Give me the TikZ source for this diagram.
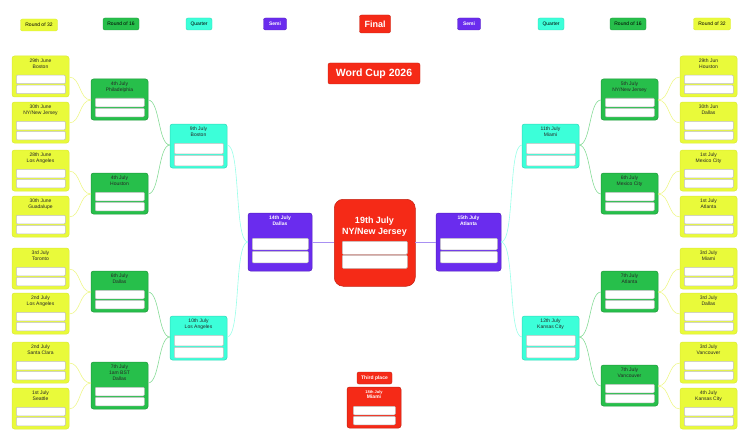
\documentclass[tikz,border=0pt]{standalone}
\usepackage{fontspec}
\setmainfont{Liberation Sans}
\usetikzlibrary{calc}
\definecolor{cy}{HTML}{E9FA3A}
\definecolor{cg}{HTML}{27BF4B}
\definecolor{cc}{HTML}{3CFFD9}
\definecolor{cp}{HTML}{6A2CEE}
\definecolor{cr}{HTML}{F52A17}
\definecolor{ly}{HTML}{EEF78A}
\definecolor{lg}{HTML}{86DB97}
\definecolor{lc}{HTML}{99FFE9}
\definecolor{lp}{HTML}{A890F2}
\tikzset{
 ybox/.style={fill=cy,draw=cy!85!black!40!cy},
 gbox/.style={fill=cg,draw=cg!80!black},
 cbox/.style={fill=cc,draw=cc!85!black},
 pbox/.style={fill=cp,draw=cp!80!black},
 rbox/.style={fill=cr,draw=cr!80!black},
 darktxt/.style={font=\fontsize{5}{5.6}\selectfont, text=black!85},
 whitetxt/.style={font=\fontsize{5}{5.6}\selectfont\bfseries, text=white},
 slotbox/.style={fill=white,draw=black!25,rounded corners=1pt,line width=0.5pt},
 hdr/.style={rounded corners=2pt,inner sep=0pt,minimum height=12pt,font=\fontsize{5}{6}\selectfont},
 conn/.style={line width=0.6pt},
}
\def\slotinset{4}
\def\txtstyle{darktxt}
\def\connoff{21}
\newcommand\matchbox[9]{%
 \node[#6,rounded corners=2.5pt,inner sep=0pt,outer sep=0pt,anchor=north west,line width=0.5pt,
   minimum width={(#4-#2)*1pt},minimum height={(#5-#3)*1pt}] (#1) at (#2,#3) {};
 \node[\txtstyle,align=center,anchor=north,inner sep=0pt] (#1-t) at ($(#1.north)+(0,3)$) {#7};
 \node[slotbox,anchor=north west,inner sep=0pt,minimum width={(#4-#2-2*\slotinset)*1pt},minimum height={#9*1pt}] (#1-s1) at ({#2+\slotinset},{#3+#8}) {};
 \node[slotbox,anchor=north west,inner sep=0pt,minimum width={(#4-#2-2*\slotinset)*1pt},minimum height={#9*1pt}] (#1-s2) at ({#2+\slotinset},{#3+#8+#9+1.5}) {};
 \coordinate (#1-l) at (#2,{#3+\connoff});
 \coordinate (#1-r) at (#4,{#3+\connoff});
}
\begin{document}
\begin{tikzpicture}[x=1pt,y=-1pt]
\useasboundingbox (0,0) rectangle (750,444);
% headers
\node[hdr,ybox,minimum width=37pt] (h1) at (39,25) {Round of 32};
\node[hdr,gbox,minimum width=36pt] (h2) at (121,24) {Round of 16};
\node[hdr,cbox,minimum width=26pt] (h3) at (199,24) {Quarter};
\node[hdr,pbox,minimum width=23pt,text=white,font=\fontsize{5}{6}\selectfont\bfseries] (h4) at (275,24) {Semi};
\node[hdr,rbox,minimum width=31pt,minimum height=18pt,text=white,font=\fontsize{9}{10}\selectfont\bfseries] (h5) at (375,24) {Final};
\node[hdr,pbox,minimum width=23pt,text=white,font=\fontsize{5}{6}\selectfont\bfseries] (h6) at (469,24) {Semi};
\node[hdr,cbox,minimum width=26pt] (h7) at (551,24) {Quarter};
\node[hdr,gbox,minimum width=36pt] (h8) at (628,24) {Round of 16};
\node[hdr,ybox,minimum width=37pt] (h9) at (712,24) {Round of 32};
\node[rbox,rounded corners=2pt,minimum width=92pt,minimum height=21pt,inner sep=0pt,text=white,font=\fontsize{10.5}{12}\selectfont\bfseries] (title) at (374,73.5) {Word Cup 2026};
% left R32
\matchbox{La}{12}{56}{69}{97}{ybox}{29th June\\Boston}{19}{8.5}
\matchbox{Lb}{12}{102}{69}{143}{ybox}{30th June\\NY/New Jersey}{19}{8.5}
\matchbox{Lc}{12}{150}{69}{191}{ybox}{28th June\\Los Angeles}{19}{8.5}
\matchbox{Ld}{12}{196}{69}{237}{ybox}{30th June\\Guadalupe}{19}{8.5}
\matchbox{Le}{12}{248}{69}{289}{ybox}{3rd July\\Toronto}{19}{8.5}
\matchbox{Lf}{12}{293}{69}{334}{ybox}{2nd July\\Los Angeles}{19}{8.5}
\matchbox{Lg}{12}{342}{69}{383}{ybox}{2nd July\\Santa Clara}{19}{8.5}
\matchbox{Lh}{12}{388}{69}{429}{ybox}{1st July\\Seattle}{19}{8.5}
% left R16
\matchbox{Ma}{91}{79}{148}{120}{gbox}{4th July\\Philadelphia}{19}{8.5}
\matchbox{Mb}{91}{173}{148}{214}{gbox}{4th July\\Houston}{19}{8.5}
\matchbox{Mc}{91}{271}{148}{312}{gbox}{6th July\\Dallas}{19}{8.5}
\matchbox{Md}{91}{362}{148}{409}{gbox}{7th July\\1am BST\\Dallas}{25}{8.5}
% left quarter
\matchbox{Qa}{170}{124}{227}{168}{cbox}{9th July\\Boston}{19}{10.5}
\matchbox{Qb}{170}{316}{227}{360}{cbox}{10th July\\Los Angeles}{19}{10.5}
% right R32
\matchbox{Ra}{680}{56}{737}{97}{ybox}{29th Jun\\Houston}{19}{8.5}
\matchbox{Rb}{680}{102}{737}{143}{ybox}{30th Jun\\Dallas}{19}{8.5}
\matchbox{Rc}{680}{150}{737}{191}{ybox}{1st July\\Mexico City}{19}{8.5}
\matchbox{Rd}{680}{196}{737}{237}{ybox}{1st July\\Atlanta}{19}{8.5}
\matchbox{Re}{680}{248}{737}{289}{ybox}{3rd July\\Miami}{19}{8.5}
\matchbox{Rf}{680}{293}{737}{334}{ybox}{3rd July\\Dallas}{19}{8.5}
\matchbox{Rg}{680}{342}{737}{383}{ybox}{3rd July\\Vancouver}{19}{8.5}
\matchbox{Rh}{680}{388}{737}{429}{ybox}{4th July\\Kansas City}{19}{8.5}
% right R16
\matchbox{Na}{601}{79}{658}{120}{gbox}{5th July\\NY/New Jersey}{19}{8.5}
\matchbox{Nb}{601}{173}{658}{214}{gbox}{6th July\\Mexico City}{19}{8.5}
\matchbox{Nc}{601}{271}{658}{312}{gbox}{7th July\\Atlanta}{19}{8.5}
\matchbox{Nd}{601}{365}{658}{406}{gbox}{7th July\\Vancouver}{19}{8.5}
% right quarter
\matchbox{Pa}{522}{124}{579}{168}{cbox}{11th July\\Miami}{19}{10.5}
\matchbox{Pb}{522}{316}{579}{360}{cbox}{12th July\\Kansas City}{19}{10.5}
% semis
\def\txtstyle{whitetxt}
\def\connoff{29}
\matchbox{Sa}{248}{213}{312}{271}{pbox}{14th July\\Dallas}{25}{11.5}
\matchbox{Sb}{436}{213}{501}{271}{pbox}{15th July\\Atlanta}{25}{11.5}
% third place
\def\slotinset{6}
\node[hdr,rbox,minimum width=35pt,text=white,font=\fontsize{5}{6}\selectfont\bfseries] (tp) at (374.5,378) {Third place};
\matchbox{Th}{347}{387}{401}{428}{rbox}{\fontsize{4}{4.6}\selectfont 18th July\\Miami}{19}{8.5}
% final
\node[rbox,rounded corners=9pt,inner sep=0pt,minimum width=81pt,minimum height=87pt,anchor=north west,line width=0.5pt] (F) at (334,199) {};
\node[text=white,font=\fontsize{9}{10.5}\selectfont\bfseries,align=center,anchor=north,inner sep=0pt] (F-t) at (374.5,217) {19th July\\NY/New Jersey};
\node[slotbox,anchor=north west,inner sep=0pt,minimum width=65pt,minimum height=13pt] (F-s1) at (342,241) {};
\node[slotbox,anchor=north west,inner sep=0pt,minimum width=65pt,minimum height=13pt] (F-s2) at (342,255) {};
\coordinate (F-l) at (334,242);
\coordinate (F-r) at (415,242);
% connectors
\foreach \a/\b in {La/Ma,Lb/Ma,Lc/Mb,Ld/Mb,Le/Mc,Lf/Mc,Lg/Md,Lh/Md}
  \draw[conn,ly] (\a-r) .. controls +(12,0) and +(-12,0) .. (\b-l);
\foreach \a/\b in {Ma/Qa,Mb/Qa,Mc/Qb,Md/Qb}
  \draw[conn,lg] (\a-r) .. controls +(12,0) and +(-12,0) .. (\b-l);
\foreach \a/\b in {Qa/Sa,Qb/Sa}
  \draw[conn,lc] (\a-r) .. controls +(14,0) and +(-14,0) .. (\b-l);
\foreach \a/\b in {Ra/Na,Rb/Na,Rc/Nb,Rd/Nb,Re/Nc,Rf/Nc,Rg/Nd,Rh/Nd}
  \draw[conn,ly] (\a-l) .. controls +(-12,0) and +(12,0) .. (\b-r);
\foreach \a/\b in {Na/Pa,Nb/Pa,Nc/Pb,Nd/Pb}
  \draw[conn,lg] (\a-l) .. controls +(-12,0) and +(12,0) .. (\b-r);
\foreach \a/\b in {Pa/Sb,Pb/Sb}
  \draw[conn,lc] (\a-l) .. controls +(-14,0) and +(14,0) .. (\b-r);
\draw[conn,lp] (Sa-r) -- (F-l);
\draw[conn,lp] (Sb-l) -- (F-r);
\end{tikzpicture}
\end{document}
